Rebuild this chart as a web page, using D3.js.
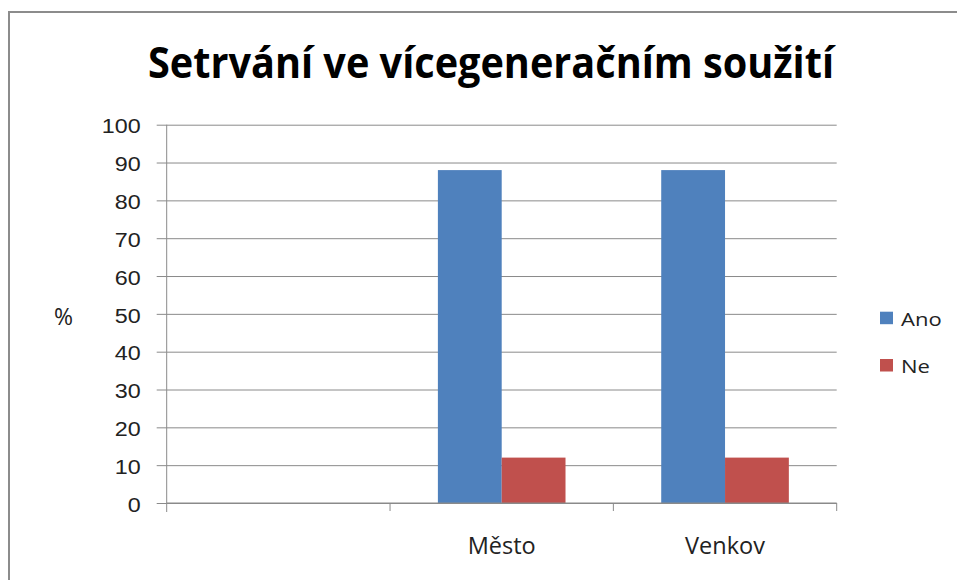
<!DOCTYPE html>
<html>
<head>
<meta charset="utf-8">
<script src="https://cdn.jsdelivr.net/npm/d3@7"></script>
<style>
  body { margin: 0; background: #fff; }
  svg { display: block; font-family: "Open Sans", sans-serif; }
</style>
</head>
<body>
<svg class="chart"></svg>
<script>
// data
var categories = ["", "Město", "Venkov"];
var seriesNames = ["Ano", "Ne"];
var anoValues = [null, 88, 88];
var neValues = [null, 12, 12];
var yTicks = [0, 10, 20, 30, 40, 50, 60, 70, 80, 90, 100];
var colors = ["#4F81BD", "#C0504D"];

var W = 957, H = 580;
var margin = { top: 124.7, left: 166.7, right: W - 836.7, bottom: H - 503 },
  width = W - margin.left - margin.right,
  height = H - margin.top - margin.bottom;

var svg = d3.select(".chart")
  .attr("width", W)
  .attr("height", H);

// outer frame
svg.append("rect")
  .attr("x", 9).attr("y", 12)
  .attr("width", W + 20).attr("height", H + 20)
  .attr("fill", "none")
  .attr("stroke", "#8c8c8c")
  .attr("stroke-width", 2);

// title
svg.append("text")
  .attr("x", 491)
  .attr("y", 78)
  .attr("text-anchor", "middle")
  .attr("textLength", 686)
  .attr("lengthAdjust", "spacingAndGlyphs")
  .style("font-weight", "bold")
  .style("font-size", "43px")
  .style("fill", "#000")
  .text("Setrvání ve vícegeneračním soužití");

var g = svg.append("g")
  .attr("transform", "translate(" + margin.left + "," + margin.top + ")");

var y = d3.scaleLinear().domain([0, 100]).range([height, 0]);
var x = d3.scaleBand().domain(categories).range([0, width]).padding(0);
var xSub = d3.scaleBand().domain(seriesNames).range([0, x.bandwidth()])
  .paddingInner(0).paddingOuter(0.75);

// gridlines
g.append("g")
  .call(d3.axisLeft(y).tickValues(yTicks).tickSize(-width).tickFormat(""))
  .call(function(s) {
    s.select(".domain").remove();
    s.selectAll("line").attr("stroke", "#8a8a8a");
  });

// bars
var rows = categories.map(function(c, i) {
  return { cat: c, values: [anoValues[i], neValues[i]] };
});

var groups = g.selectAll(".cat")
  .data(rows)
  .enter()
  .append("g")
  .attr("transform", function(d) { return "translate(" + x(d.cat) + ",0)"; });

groups.selectAll("rect")
  .data(function(d) {
    return d.values.map(function(v, j) { return { key: seriesNames[j], value: v, j: j }; })
      .filter(function(e) { return e.value != null; });
  })
  .enter()
  .append("rect")
  .attr("x", function(d) { return xSub(d.key); })
  .attr("y", function(d) { return y(d.value); })
  .attr("width", xSub.bandwidth())
  .attr("height", function(d) { return height - y(d.value); })
  .attr("fill", function(d) { return colors[d.j]; });

// y axis
var sx = 1.19;
g.append("g")
  .call(d3.axisLeft(y).tickValues(yTicks).tickSize(10).tickSizeOuter(0).tickPadding(16))
  .call(function(s) {
    s.select(".domain").attr("d", "M0," + 0 + "V" + (height + 9)).attr("stroke", "#8a8a8a");
    s.selectAll(".tick line").attr("stroke", "#8a8a8a");
    s.selectAll("text")
      .attr("transform", "scale(" + sx + ",1)")
      .attr("x", -26 / sx)
      .attr("dy", "0.42em")
      .style("font-size", "19.6px")
      .style("fill", "#222");
  });

// x axis: ticks at category boundaries
var bounds = categories.map(function(c) { return x(c); }).concat([width]);
var xAxisG = g.append("g").attr("transform", "translate(0," + height + ")");
xAxisG.append("line")
  .attr("x1", 0).attr("x2", width)
  .attr("stroke", "#8a8a8a");
xAxisG.selectAll(".xt")
  .data(bounds.slice(1))
  .enter()
  .append("line")
  .attr("x1", function(d) { return d; })
  .attr("x2", function(d) { return d; })
  .attr("y1", 0).attr("y2", 8)
  .attr("stroke", "#8a8a8a");
xAxisG.selectAll(".xl")
  .data(categories)
  .enter()
  .append("text")
  .attr("x", function(d) { return x(d) + x.bandwidth() / 2; })
  .attr("y", 51)
  .attr("text-anchor", "middle")
  .style("font-size", "23.5px")
  .style("fill", "#222")
  .text(function(d) { return d; });

// y label
svg.append("text")
  .attr("x", 63.5)
  .attr("y", 325)
  .attr("text-anchor", "middle")
  .style("font-size", "23px")
  .style("fill", "#222")
  .text("%");

// legend
var lsx = 1.28;
var legend = svg.selectAll(".legend")
  .data(seriesNames)
  .enter()
  .append("g")
  .attr("transform", function(d, i) { return "translate(880," + (311.7 + i * 47.3) + ")"; });

legend.append("rect")
  .attr("width", 13)
  .attr("height", 12.5)
  .attr("fill", function(d, i) { return colors[i]; });

legend.append("text")
  .attr("transform", "translate(21,14) scale(" + lsx + ",1)")
  .style("font-size", "17.2px")
  .style("fill", "#222")
  .text(function(d) { return d; });
</script>
</body>
</html>
